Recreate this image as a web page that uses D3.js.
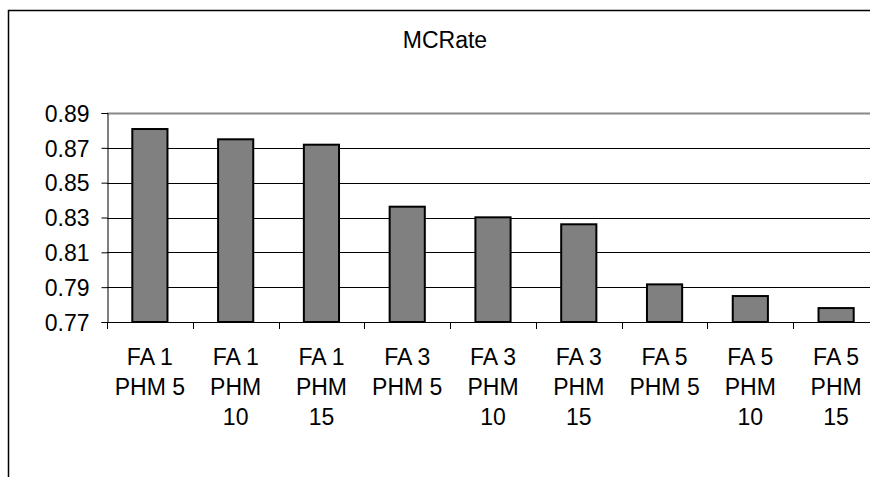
<!DOCTYPE html>
<html>
<head>
<meta charset="utf-8">
<script src="https://cdn.jsdelivr.net/npm/d3@7/dist/d3.min.js"></script>
<style>
  html, body { margin: 0; padding: 0; background: #fff; }
  svg { display: block; }
  text { font-family: "Liberation Sans", Arial, sans-serif; fill: #000; }
</style>
</head>
<body>
<svg id="chart" width="870" height="477"></svg>
<script>
// MCRate per configuration
const categories = [
  ["FA 1", "PHM 5"], ["FA 1", "PHM", "10"], ["FA 1", "PHM", "15"],
  ["FA 3", "PHM 5"], ["FA 3", "PHM", "10"], ["FA 3", "PHM", "15"],
  ["FA 5", "PHM 5"], ["FA 5", "PHM", "10"], ["FA 5", "PHM", "15"]
];
const mcrate = [0.8808, 0.8749, 0.8718, 0.8362, 0.8301, 0.8261, 0.7916, 0.7849, 0.7780];
const yTicks = [0.77, 0.79, 0.81, 0.83, 0.85, 0.87, 0.89];
const title = "MCRate";

const svg = d3.select("#chart");
const plot = { left: 107, right: 879, top: 113, bottom: 322 };

const keys = categories.map((c, i) => i);
const x = d3.scaleBand()
  .domain(keys)
  .range([plot.left, plot.right])
  .paddingInner(0.59)
  .paddingOuter(0.295);
const y = d3.scaleLinear().domain([0.77, 0.89]).range([plot.bottom, plot.top]);

// chart area frame
svg.append("rect")
  .attr("x", 8.5).attr("y", 10.5)
  .attr("width", 880).attr("height", 500)
  .attr("fill", "#fff").attr("stroke", "#000").attr("stroke-width", 1.5);

// title
svg.append("text")
  .attr("x", 445).attr("y", 48)
  .attr("text-anchor", "middle")
  .style("font-size", "23px")
  .text(title);

// horizontal gridlines
svg.append("g").selectAll("line")
  .data(yTicks.slice(1))
  .join("line")
  .attr("x1", plot.left).attr("x2", 870)
  .attr("y1", d => Math.round(y(d)) + 0.5).attr("y2", d => Math.round(y(d)) + 0.5)
  .attr("stroke", d => d === 0.89 ? "#888" : "#000")
  .attr("stroke-width", d => d === 0.89 ? 2 : 1);

// bars
svg.append("g").selectAll("rect")
  .data(mcrate)
  .join("rect")
  .attr("x", (d, i) => x(i))
  .attr("y", d => y(d))
  .attr("width", x.bandwidth())
  .attr("height", d => y(0.77) - y(d))
  .attr("fill", "#808080")
  .attr("stroke", "#000")
  .attr("stroke-width", 2);

// y axis
const yAxis = d3.axisLeft(y)
  .tickValues(yTicks)
  .tickFormat(d3.format(".2f"))
  .tickSize(6)
  .tickPadding(12);
const gy = svg.append("g")
  .attr("transform", `translate(${plot.left + 0.5},0)`)
  .call(yAxis);
gy.select(".domain").attr("stroke", "#000");
gy.selectAll(".tick line").attr("stroke", "#000");
gy.selectAll(".tick text")
  .style("font-size", "23px")
  .attr("dy", "0.36em");

// x axis baseline
svg.append("line")
  .attr("x1", plot.left).attr("x2", 870)
  .attr("y1", plot.bottom + 0.5).attr("y2", plot.bottom + 0.5)
  .attr("stroke", "#000");

// category separators on the x axis
const step = x.step();
const edges = keys.map(i => x(i) - (step - x.bandwidth()) / 2);
svg.append("g").selectAll("line")
  .data(edges)
  .join("line")
  .attr("x1", d => Math.round(d) + 0.5).attr("x2", d => Math.round(d) + 0.5)
  .attr("y1", plot.bottom).attr("y2", plot.bottom + 7)
  .attr("stroke", "#000");

// category labels (multi-line)
const lbl = svg.append("g").selectAll("text")
  .data(categories)
  .join("text")
  .attr("text-anchor", "middle")
  .style("font-size", "23px")
  .attr("transform", (d, i) => `translate(${x(i) + x.bandwidth() / 2},365)`);
lbl.selectAll("tspan")
  .data(d => d)
  .join("tspan")
  .attr("x", 0)
  .attr("y", (d, j) => j * 30)
  .text(d => d);
</script>
</body>
</html>
